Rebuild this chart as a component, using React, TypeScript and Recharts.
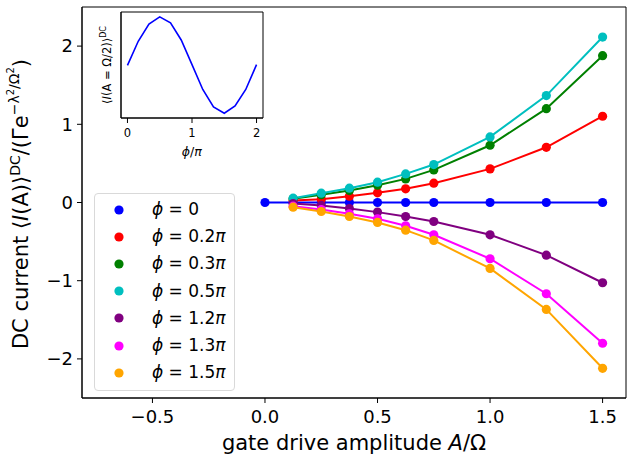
import { LineChart, Line, XAxis, YAxis, ReferenceArea, Legend } from 'recharts';

// gate drive amplitude A/Ω
const amplitudes = [0.125, 0.25, 0.375, 0.5, 0.625, 0.75, 1.0, 1.25, 1.5];
const amplitudesPhi0 = [0, 0.125, 0.25, 0.375, 0.5, 0.625, 0.75, 1.0, 1.25, 1.5];

// DC current for each phase
const currentPhi0 = [0, 0, 0, 0, 0, 0, 0, 0, 0, 0];
const currentPhi02 = [0.025, 0.042, 0.081, 0.124, 0.175, 0.247, 0.43, 0.706, 1.103];
const currentPhi03 = [0.047, 0.1, 0.153, 0.221, 0.302, 0.417, 0.732, 1.2, 1.877];
const currentPhi05 = [0.055, 0.119, 0.183, 0.26, 0.366, 0.485, 0.839, 1.367, 2.116];
const currentPhi12 = [-0.013, -0.038, -0.077, -0.123, -0.179, -0.243, -0.413, -0.673, -1.026];
const currentPhi13 = [-0.047, -0.09, -0.145, -0.209, -0.298, -0.413, -0.719, -1.167, -1.8];
const currentPhi15 = [-0.06, -0.115, -0.179, -0.255, -0.354, -0.485, -0.843, -1.367, -2.12];

// inset: current at A = Ω/2 vs phase
const insetPhase = [0, 0.167, 0.333, 0.5, 0.667, 0.833, 1, 1.167, 1.333, 1.5, 1.667, 1.833, 2];
const insetCurrent = [-0.002, 0.128, 0.221, 0.26, 0.228, 0.135, 0.002, -0.132, -0.226, -0.26, -0.221, -0.132, 0.002];

const xTicks = [-0.5, 0, 0.5, 1, 1.5];
const yTicks = [-2, -1, 0, 1, 2];
const insetTicks = [0, 1, 2];

const X_DOMAIN: [number, number] = [-0.813, 1.604];
const Y_DOMAIN: [number, number] = [-2.5, 2.5];
const INSET_X: [number, number] = [-0.1, 2.1];
const INSET_Y: [number, number] = [-0.286, 0.286];

const series = [
  { key: 'p0', phase: '0', color: '#0000ff', a: amplitudesPhi0, v: currentPhi0 },
  { key: 'p02', phase: '0.2', color: '#ff0000', a: amplitudes, v: currentPhi02 },
  { key: 'p03', phase: '0.3', color: '#008000', a: amplitudes, v: currentPhi03 },
  { key: 'p05', phase: '0.5', color: '#00bfbf', a: amplitudes, v: currentPhi05 },
  { key: 'p12', phase: '1.2', color: '#800080', a: amplitudes, v: currentPhi12 },
  { key: 'p13', phase: '1.3', color: '#ff00ff', a: amplitudes, v: currentPhi13 },
  { key: 'p15', phase: '1.5', color: '#ffa500', a: amplitudes, v: currentPhi15 },
];

const insetData = insetPhase.map((p, i) => ({ p, c: insetCurrent[i] }));

const minus = (s: string) => s.replace('-', '\u2212');

const FONT = '"DejaVu Sans", sans-serif';

const MainYLabel = () => (
  <text transform="translate(27.5,204) rotate(-90)" textAnchor="middle" fontSize={21} fill="#000" fontFamily={FONT}>
    {'DC current \u27E8'}
    <tspan fontStyle="italic">I</tspan>
    {'(A)\u27E9'}
    <tspan fontSize={14} dy={-8}>DC</tspan>
    <tspan fontSize={21} dy={8}>/(Γe</tspan>
    <tspan fontSize={14} dy={-9}>{'\u2212λ'}</tspan>
    <tspan fontSize={10} dy={-5}>2</tspan>
    <tspan fontSize={14} dy={5}>/Ω</tspan>
    <tspan fontSize={10} dy={-5}>2</tspan>
    <tspan fontSize={21} dy={14}>)</tspan>
  </text>
);

const MainXLabel = () => (
  <text x={354} y={450} textAnchor="middle" fontSize={21} fill="#000" fontFamily={FONT}>
    {'gate drive amplitude '}
    <tspan fontStyle="italic">A</tspan>
    {'/Ω'}
  </text>
);

const InsetYLabel = () => (
  <text transform="translate(111,65) rotate(-90)" textAnchor="middle" fontSize={11.5} fill="#000" fontFamily={FONT}>
    {'\u27E8'}
    <tspan fontStyle="italic">I</tspan>
    {'(A = Ω/2)\u27E9'}
    <tspan fontSize={8} dy={-5}>DC</tspan>
  </text>
);

const InsetXLabel = () => (
  <text x={191.7} y={156} textAnchor="middle" fontSize={12.5} fill="#000" fontFamily={FONT}>
    <tspan fontStyle="italic">ϕ</tspan>/<tspan fontStyle="italic">π</tspan>
  </text>
);

const LegendBox = () => (
  <div
    style={{
      width: 139,
      height: 194,
      paddingTop: 2,
      border: '1px solid #d9d9d9',
      borderRadius: 4,
      background: 'rgba(255,255,255,0.8)',
      fontFamily: FONT,
    }}
  >
    {series.map((s) => (
      <div key={s.key} style={{ position: 'relative', height: 27.2 }}>
        <svg width={10} height={10} style={{ position: 'absolute', left: 19.3, top: 8.6 }}>
          <circle cx={5} cy={5} r={4.6} fill={s.color} />
        </svg>
        <span style={{ position: 'absolute', left: 57, top: 0, lineHeight: '27.2px', fontSize: 17, color: '#000', whiteSpace: 'nowrap' }}>
          <i>ϕ</i>
          {' = ' + s.phase}
          {s.phase !== '0' && <i>π</i>}
        </span>
      </div>
    ))}
  </div>
);

export default function App() {
  return (
    <div style={{ position: 'absolute', left: 0, top: 0, width: 631, height: 455, background: '#fff', fontFamily: FONT }}>
      <LineChart width={631} height={455} margin={{ top: 7, right: 5, bottom: 0, left: 0 }}>
        <XAxis
          type="number"
          dataKey="a"
          domain={X_DOMAIN}
          allowDataOverflow
          ticks={xTicks}
          tickFormatter={(v: number) => minus(v.toFixed(1))}
          height={57}
          tickSize={5}
          tickMargin={7}
          stroke="#000"
          tick={{ fill: '#000', fontSize: 18, fontFamily: FONT }}
          label={<MainXLabel />}
        />
        <YAxis
          type="number"
          domain={Y_DOMAIN}
          allowDataOverflow
          ticks={yTicks}
          tickFormatter={(v: number) => minus(String(v))}
          width={82}
          tickSize={5}
          tickMargin={4}
          stroke="#000"
          tick={{ fill: '#000', fontSize: 18, fontFamily: FONT }}
          label={<MainYLabel />}
        />
        <ReferenceArea x1={X_DOMAIN[0]} x2={X_DOMAIN[1]} y1={Y_DOMAIN[0]} y2={Y_DOMAIN[1]} fill="none" stroke="#000" strokeWidth={1} ifOverflow="visible" />
        {series.map((s) => (
          <Line
            key={s.key}
            data={s.a.map((a, i) => ({ a, y: s.v[i] }))}
            dataKey="y"
            type="linear"
            stroke={s.color}
            strokeWidth={2}
            dot={{ r: 4.6, fill: s.color, stroke: s.color, strokeWidth: 0 }}
            isAnimationActive={false}
          />
        ))}
        <Legend
          layout="vertical"
          align="center"
          verticalAlign="middle"
          content={<LegendBox />}
          wrapperStyle={{ left: 94, top: 193, width: 141, height: 198 }}
        />
      </LineChart>

      <div style={{ position: 'absolute', left: 0, top: 0 }}>
        <LineChart width={280} height={170} data={insetData} margin={{ top: 12, right: 17, bottom: 22, left: 101 }}>
          <XAxis
            type="number"
            dataKey="p"
            domain={INSET_X}
            allowDataOverflow
            ticks={insetTicks}
            height={30}
            tickSize={5}
            tickMargin={6}
            stroke="#000"
            tick={{ fill: '#000', fontSize: 11.5, fontFamily: FONT }}
            label={<InsetXLabel />}
          />
          <YAxis type="number" domain={INSET_Y} allowDataOverflow width={20} tick={false} tickLine={false} stroke="#000" label={<InsetYLabel />} />
          <ReferenceArea x1={INSET_X[0]} x2={INSET_X[1]} y1={INSET_Y[0]} y2={INSET_Y[1]} fill="#fff" fillOpacity={1} stroke="#000" strokeWidth={1} ifOverflow="visible" />
          <Line dataKey="c" type="linear" stroke="#0000ff" strokeWidth={1.6} dot={false} isAnimationActive={false} />
        </LineChart>
      </div>
    </div>
  );
}
